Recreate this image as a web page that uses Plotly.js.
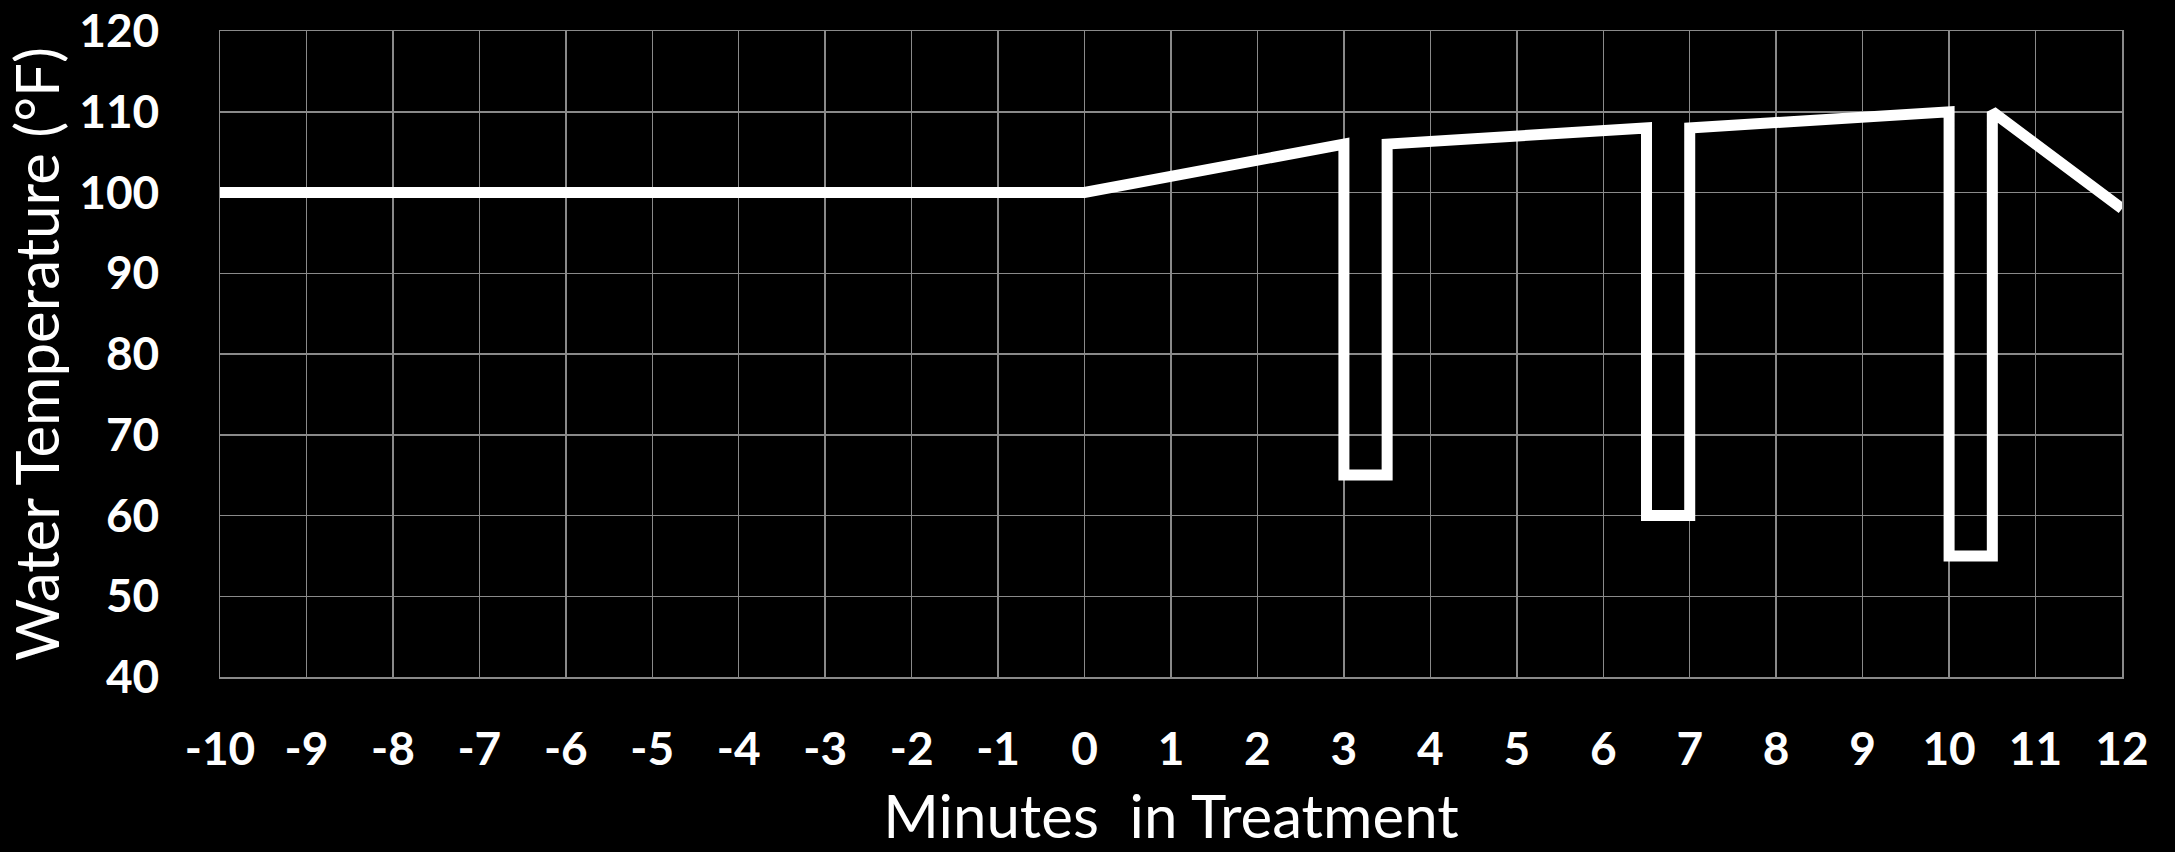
<!DOCTYPE html>
<html>
<head>
<meta charset="utf-8">
<script src="https://cdn.plot.ly/plotly-3.0.1.min.js"></script>
<style>html,body{margin:0;padding:0;background:#000;}#chart{width:2175px;height:852px;}</style>
</head>
<body>
<div id="chart"></div>
<script>
const minutes = [-10, 0, 3, 3, 3.5, 3.5, 6.5, 6.5, 7, 7, 10, 10, 10.5, 10.5, 12];
const temperatureF = [100, 100, 106, 65, 65, 106, 108, 60, 60, 108, 110, 55, 55, 110, 98];
const xTickVals = [-10,-9,-8,-7,-6,-5,-4,-3,-2,-1,0,1,2,3,4,5,6,7,8,9,10,11,12];
const yTickVals = [40,50,60,70,80,90,100,110,120];
const xTitle = "Minutes\u00a0 in Treatment";
const yTitle = "Water Temperature (°F)";

const gridColor = "#8a8a8a";
const tickFont = {family: "Lato, 'Open Sans', sans-serif", size: 46, color: "#ffffff", weight: "bold"};

const data = [{
  x: minutes,
  y: temperatureF,
  type: "scatter",
  mode: "lines",
  line: {color: "#ffffff", width: 11},
  hoverinfo: "skip"
}];

const layout = {
  width: 2175,
  height: 852,
  paper_bgcolor: "#000000",
  plot_bgcolor: "#000000",
  showlegend: false,
  margin: {l: 220, r: 53, t: 31, b: 175, pad: 0},
  xaxis: {
    range: [-10, 12],
    tickvals: xTickVals,
    ticktext: xTickVals.map(String),
    showgrid: true,
    gridcolor: gridColor,
    gridwidth: 1.5,
    zeroline: false,
    showline: true,
    linecolor: gridColor,
    linewidth: 1.5,
    mirror: true,
    ticks: "",
    ticklabelstandoff: 31,
    ticklabeloverflow: "allow",
    tickfont: tickFont,
    title: {text: xTitle, font: {family: "Lato, 'Open Sans', sans-serif", size: 60, color: "#ffffff"}, standoff: 22},
    automargin: false
  },
  yaxis: {
    range: [40, 120],
    tickvals: yTickVals,
    ticktext: yTickVals.map(String),
    showgrid: true,
    gridcolor: gridColor,
    gridwidth: 1.5,
    zeroline: false,
    showline: true,
    linecolor: gridColor,
    linewidth: 1.5,
    mirror: true,
    ticks: "",
    ticklabelstandoff: 50,
    ticklabeloverflow: "allow",
    tickfont: tickFont,
    title: {text: yTitle, font: {family: "Lato, 'Open Sans', sans-serif", size: 60, color: "#ffffff"}, standoff: 16},
    automargin: false
  }
};

Plotly.newPlot("chart", data, layout, {displayModeBar: false, staticPlot: true});
</script>
</body>
</html>
